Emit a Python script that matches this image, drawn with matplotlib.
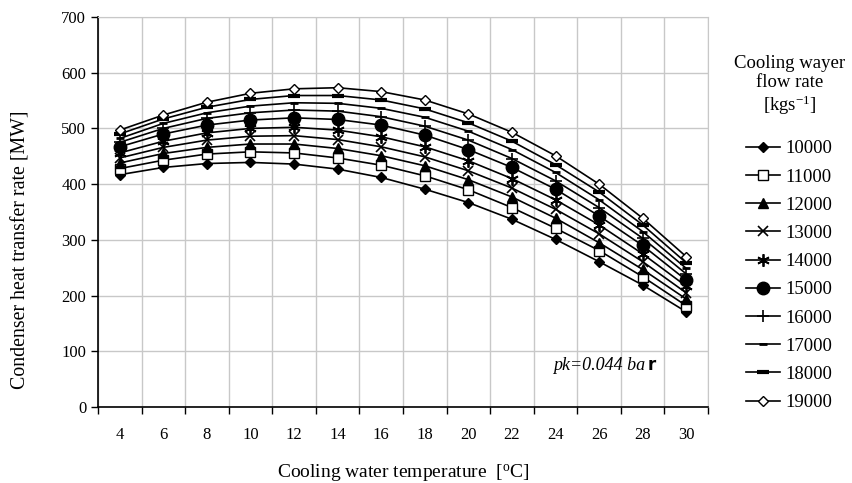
import matplotlib
matplotlib.use('Agg')
import matplotlib.pyplot as plt
import numpy as np

plt.rcParams['font.family'] = ['Liberation Serif', 'DejaVu Serif']
plt.rcParams['mathtext.fontset'] = 'custom'
plt.rcParams['mathtext.rm'] = 'Liberation Serif'
plt.rcParams['mathtext.it'] = 'Liberation Serif:italic'

# cooling water temperature categories [C]
temps = [4, 6, 8, 10, 12, 14, 16, 18, 20, 22, 24, 26, 28, 30]

# heat transfer rate [MW] per cooling water flow rate [kg/s]
q10000 = [417, 430, 437, 439, 436, 427, 412, 391, 367, 337, 301, 261, 219, 171]
q11000 = [428, 443, 454, 458, 456, 447, 434, 415, 390, 358, 321, 281, 234, 182]
q12000 = [438, 455, 466, 472, 472, 464, 451, 433, 408, 377, 339, 295, 247, 194]
q13000 = [447, 466, 479, 486, 487, 480, 467, 449, 424, 393, 355, 311, 261, 205]
q14000 = [456, 477, 492, 500, 502, 497, 485, 467, 442, 410, 372, 327, 275, 217]
q15000 = [467, 490, 506, 515, 519, 516, 506, 488, 462, 430, 391, 343, 290, 228]
q16000 = [475, 500, 518, 528, 533, 531, 521, 504, 479, 446, 406, 358, 303, 239]
q17000 = [482, 509, 528, 540, 546, 545, 536, 520, 495, 462, 421, 372, 315, 249]
q18000 = [490, 517, 538, 552, 559, 559, 551, 535, 510, 477, 435, 386, 327, 259]
q19000 = [497, 524, 547, 563, 571, 573, 566, 551, 526, 493, 451, 400, 339, 270]

flow_labels = ['10000', '11000', '12000', '13000', '14000',
               '15000', '16000', '17000', '18000', '19000']
series = [q10000, q11000, q12000, q13000, q14000,
          q15000, q16000, q17000, q18000, q19000]

# marker style per series: (marker, size, facecolor, edgewidth)
styles = [
    ('D', 5, 'black', 1.0),
    ('s', 7, 'white', 1.0),
    ('^', 7, 'black', 1.0),
    ('x', 7, 'black', 1.2),
    ((6, 2, 0), 9, 'black', 1.3),
    ('o', 9, 'black', 1.0),
    ('+', 9, 'black', 1.2),
    ('_', 6, 'black', 2.0),
    ('_', 9, 'black', 3.0),
    ('D', 5, 'white', 1.0),
]

fig = plt.figure(figsize=(8.52, 4.83), dpi=100)
ax = fig.add_axes([0.115, 0.157, 0.716, 0.808])

x = np.arange(len(temps))
handles = []
for vals, lab, (m, ms, fc, mew) in zip(series, flow_labels, styles):
    h, = ax.plot(x, vals, color='black', lw=1.2, marker=m, markersize=ms,
                 markerfacecolor=fc, markeredgecolor='black',
                 markeredgewidth=mew, label=lab)
    handles.append(h)

ax.set_xlim(-0.5, len(temps) - 0.5)
ax.set_ylim(0, 700)
ax.set_yticks(range(0, 701, 100))

# category axis: tick marks/grid at boundaries, labels at centres
ax.set_xticks(np.arange(-0.5, len(temps), 1.0))
ax.set_xticklabels([])
ax.set_xticks(x, minor=True)
ax.set_xticklabels([str(t) for t in temps], minor=True)
ax.tick_params(axis='x', which='minor', length=0, pad=14, labelsize=12)
ax.tick_params(axis='x', which='major', direction='out', length=5, width=1)
ax.tick_params(axis='y', direction='out', length=5, width=1, labelsize=12)

ax.grid(True, which='major', color='#c8c8c8', lw=1.0)
ax.set_axisbelow(True)
for s in ['top', 'right']:
    ax.spines[s].set_color('#c8c8c8')
for s in ['left', 'bottom']:
    ax.spines[s].set_linewidth(1.2)

ax.set_xlabel('Cooling water temperature  [$\\mathregular{^oC}$]', fontsize=14, va='top')
ax.xaxis.set_label_coords(0.5, -0.141)
ax.set_ylabel('Condenser heat transfer rate [MW]', fontsize=14.3)
ax.yaxis.set_label_coords(-0.111, 0.403)

ax.text(9.94, 75, 'pk=0.044 ba', fontsize=13, style='italic', va='center')
ax.text(12.12, 75, 'r', fontsize=12, fontweight='bold', family='DejaVu Sans', va='center')

fig.text(0.927, 0.822, 'Cooling wayer\nflow rate\n[kgs$\\mathregular{^{-1}}$]',
         ha='center', va='center', fontsize=13.5, linespacing=1.15)

fig.legend(handles=handles, loc='upper left', bbox_to_anchor=(0.864, 0.729),
           frameon=False, fontsize=13.5, handlelength=1.85, handletextpad=0.3,
           labelspacing=0.59, borderpad=0)

fig.savefig('out.png', dpi=100)
